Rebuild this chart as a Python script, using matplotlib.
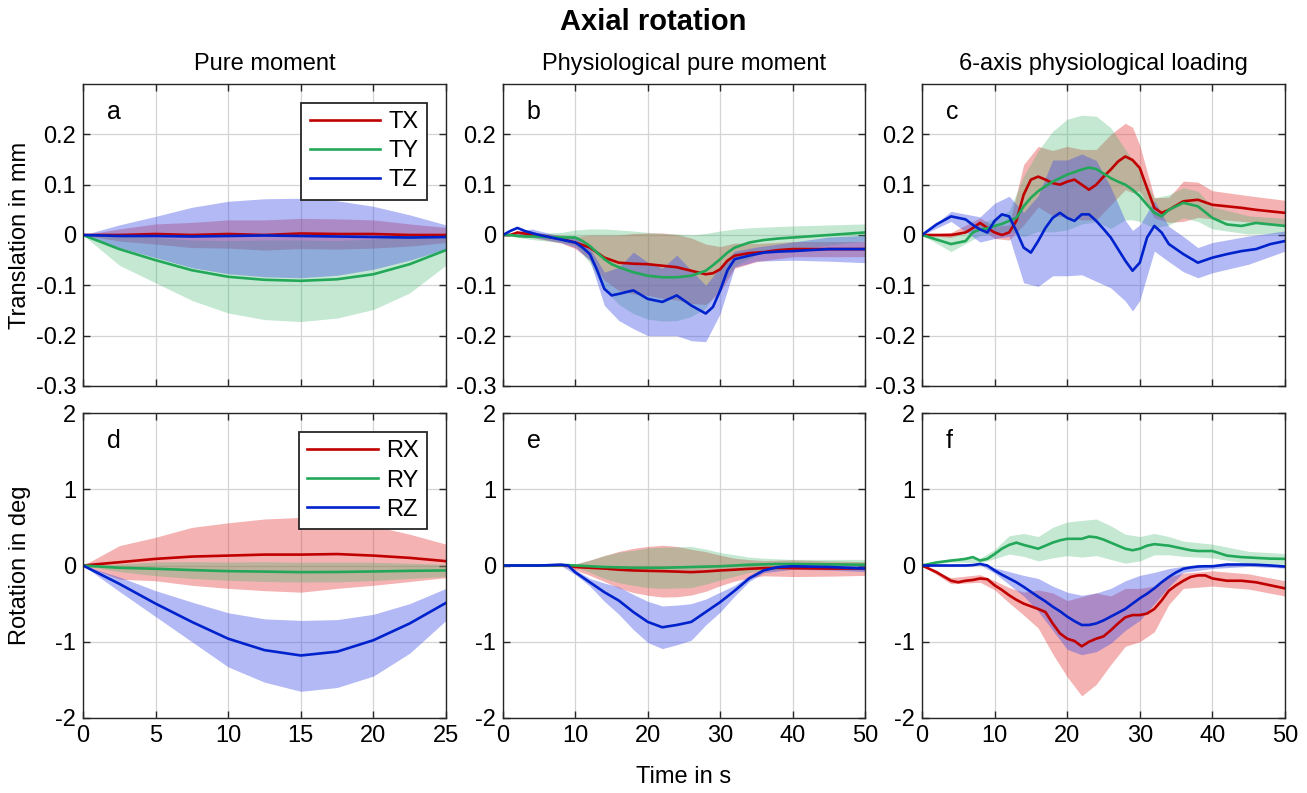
import numpy as np
import matplotlib
matplotlib.use("Agg")
import matplotlib.pyplot as plt

plt.rcParams['font.family'] = ['Liberation Sans', 'DejaVu Sans']
plt.rcParams['axes.unicode_minus'] = False

# ---------------- data ----------------
labels_T = ['TX', 'TY', 'TZ']
labels_R = ['RX', 'RY', 'RZ']

# panel a : pure moment, translation
a_t = [0, 2.5, 5, 7.5, 10, 12.5, 15, 17.5, 20, 22.5, 25]
a_tx = [0, 0, 0.002, 0, 0.002, 0, 0.003, 0.002, 0.002, 0, 0]
a_ty = [0, -0.028, -0.05, -0.07, -0.083, -0.089, -0.091, -0.088, -0.078, -0.058, -0.03]
a_tz = [0, -0.002, -0.002, -0.003, -0.002, -0.001, -0.002, -0.003, -0.004, -0.005, -0.004]
a_tx_hi = [0, 0.012, 0.022, 0.025, 0.03, 0.03, 0.033, 0.032, 0.03, 0.022, 0.015]
a_tx_lo = [0, -0.012, -0.018, -0.025, -0.026, -0.03, -0.027, -0.028, -0.026, -0.022, -0.015]
a_ty_hi = [0, 0.004, -0.005, -0.01, -0.011, -0.01, -0.01, -0.011, -0.008, -0.001, 0]
a_ty_lo = [0, -0.06, -0.095, -0.13, -0.155, -0.168, -0.172, -0.165, -0.148, -0.115, -0.06]
a_tz_hi = [0, 0.02, 0.037, 0.055, 0.067, 0.072, 0.073, 0.068, 0.057, 0.04, 0.02]
a_tz_lo = [0, -0.025, -0.045, -0.065, -0.077, -0.083, -0.085, -0.08, -0.068, -0.05, -0.028]

# panel b : physiological pure moment, translation
b_t = [0, 1, 2, 3, 4, 5, 6, 8, 10, 11, 12, 13, 14, 15, 16, 18, 20, 22, 24, 26,
       28, 29, 30, 31, 32, 34, 36, 38, 40, 45, 50]
b_tx = [0, 0, 0.005, 0.003, 0, 0, -0.003, -0.008, -0.015, -0.02, -0.025, -0.035, -0.045,
        -0.05, -0.055, -0.057, -0.058, -0.061, -0.064, -0.071, -0.078, -0.076, -0.068,
        -0.051, -0.041, -0.036, -0.034, -0.03, -0.028, -0.028, -0.028]
b_ty = [0, 0, -0.002, -0.003, -0.003, -0.003, -0.004, -0.005, -0.005, -0.012, -0.022,
        -0.035, -0.048, -0.058, -0.064, -0.074, -0.081, -0.084, -0.084, -0.081, -0.071,
        -0.06, -0.048, -0.035, -0.025, -0.015, -0.01, -0.007, -0.005, 0, 0.005]
b_tz = [0, 0.008, 0.014, 0.008, 0.004, 0, -0.003, -0.009, -0.015, -0.025, -0.038, -0.07,
        -0.107, -0.12, -0.117, -0.11, -0.127, -0.133, -0.12, -0.14, -0.156, -0.143, -0.11,
        -0.07, -0.048, -0.041, -0.035, -0.033, -0.032, -0.028, -0.028]
b_tb = [0, 4, 8, 10, 12, 14, 16, 18, 20, 22, 24, 26, 28, 30, 32, 35, 40, 45, 50]
b_tx_hi = [0, 0.005, 0, -0.003, 0, 0, 0, 0.003, 0.004, 0.004, 0.001, -0.006, -0.018,
           -0.023, -0.016, -0.017, -0.013, -0.013, -0.013]
b_tx_lo = [0, -0.005, -0.016, -0.027, -0.05, -0.09, -0.11, -0.117, -0.12, -0.126, -0.129,
           -0.136, -0.138, -0.113, -0.066, -0.053, -0.043, -0.043, -0.043]
b_ty_hi = [0, 0.003, 0.005, 0.01, 0.012, 0.012, 0.01, 0.008, 0.005, 0.003, 0.002, 0.0,
           0.003, 0.008, 0.012, 0.015, 0.018, 0.02, 0.022]
b_ty_lo = [0, -0.009, -0.015, -0.02, -0.056, -0.108, -0.138, -0.156, -0.167, -0.171, -0.17,
           -0.162, -0.145, -0.104, -0.062, -0.039, -0.028, -0.02, -0.012]
b_tz_hi = [0, 0.012, -0.003, -0.005, -0.026, -0.074, -0.064, -0.034, -0.054, -0.066, -0.04,
           -0.07, -0.1, -0.064, -0.032, -0.024, -0.014, -0.004, -0.001]
b_tz_lo = [0, -0.004, -0.015, -0.025, -0.05, -0.14, -0.17, -0.186, -0.2, -0.2, -0.2,
           -0.21, -0.212, -0.156, -0.064, -0.052, -0.05, -0.052, -0.055]

# panel c : 6-axis physiological loading, translation
c_t = [0, 2, 4, 6, 7, 8, 9, 10, 11, 12, 13, 14, 15, 16, 17, 18, 19, 20, 21, 22, 23, 24,
       25, 26, 27, 28, 29, 30, 31, 32, 33, 34, 36, 38, 40, 42, 44, 46, 48, 50]
c_tx = [0, 0, 0, 0.005, 0.014, 0.024, 0.014, 0.005, 0, 0.005, 0.028, 0.08, 0.11, 0.116,
        0.11, 0.103, 0.1, 0.106, 0.11, 0.1, 0.09, 0.1, 0.116, 0.13, 0.146, 0.156, 0.149,
        0.133, 0.093, 0.054, 0.044, 0.05, 0.067, 0.07, 0.06, 0.057, 0.054, 0.05, 0.047, 0.044]
c_ty = [0, -0.009, -0.018, -0.012, 0.005, 0.011, 0.013, 0.018, 0.022, 0.028, 0.034, 0.057,
        0.074, 0.087, 0.097, 0.106, 0.113, 0.12, 0.125, 0.13, 0.134, 0.131, 0.122, 0.113,
        0.106, 0.1, 0.09, 0.077, 0.06, 0.044, 0.037, 0.05, 0.064, 0.057, 0.034, 0.021,
        0.018, 0.024, 0.021, 0.018]
c_tz = [0, 0.021, 0.037, 0.031, 0.02, 0.011, 0.005, 0.028, 0.041, 0.037, 0.008, -0.025,
        -0.035, -0.012, 0.014, 0.034, 0.044, 0.034, 0.028, 0.041, 0.041, 0.028, 0.012,
        -0.005, -0.028, -0.051, -0.071, -0.055, -0.005, 0.018, 0.005, -0.018, -0.038,
        -0.055, -0.045, -0.038, -0.032, -0.028, -0.018, -0.012]
c_tb = [0, 4, 8, 10, 12, 14, 16, 18, 20, 22, 24, 26, 28, 29, 30, 32, 34, 36, 38, 40, 45, 50]
c_tx_hi = [0, 0.005, 0.034, 0.017, 0.02, 0.14, 0.176, 0.168, 0.176, 0.17, 0.17, 0.2, 0.222,
           0.214, 0.178, 0.074, 0.075, 0.107, 0.105, 0.088, 0.078, 0.069]
c_tx_lo = [0, -0.005, 0.014, -0.007, -0.01, 0.02, 0.056, 0.038, 0.036, 0.03, 0.03, 0.06,
           0.09, 0.084, 0.088, 0.034, 0.025, 0.027, 0.035, 0.032, 0.026, 0.019]
c_ty_hi = [0, -0.003, 0.023, 0.033, 0.048, 0.117, 0.167, 0.206, 0.23, 0.238, 0.236, 0.213,
           0.17, 0.15, 0.127, 0.074, 0.08, 0.094, 0.087, 0.056, 0.038, 0.033]
c_ty_lo = [0, -0.033, -0.001, 0.003, 0.008, -0.003, 0.007, 0.006, 0.01, 0.022, 0.026, 0.013,
           0.03, 0.03, 0.027, 0.014, 0.02, 0.034, 0.027, 0.012, 0.002, 0.003]
c_tz_hi = [0, 0.047, 0.036, 0.063, 0.077, 0.045, 0.078, 0.149, 0.149, 0.161, 0.148, 0.095,
           0.029, 0.009, 0.02, 0.068, 0.017, -0.003, -0.025, -0.015, -0.002, 0.008]
c_tz_lo = [0, 0.027, -0.014, -0.007, -0.003, -0.095, -0.102, -0.081, -0.081, -0.079, -0.092,
           -0.105, -0.131, -0.151, -0.13, -0.032, -0.053, -0.073, -0.085, -0.075, -0.058, -0.032]

# panel d : pure moment, rotation
d_t = [0, 2.5, 5, 7.5, 10, 12.5, 15, 17.5, 20, 22.5, 25]
d_rx = [0, 0.043, 0.087, 0.117, 0.13, 0.143, 0.143, 0.15, 0.13, 0.1, 0.057]
d_ry = [0, -0.03, -0.043, -0.06, -0.074, -0.08, -0.087, -0.085, -0.078, -0.07, -0.065]
d_rz = [0, -0.24, -0.5, -0.74, -0.96, -1.11, -1.18, -1.13, -0.98, -0.76, -0.49]
d_rx_hi = [0, 0.26, 0.37, 0.5, 0.56, 0.61, 0.63, 0.59, 0.52, 0.41, 0.28]
d_rx_lo = [0, -0.18, -0.2, -0.26, -0.3, -0.33, -0.35, -0.3, -0.26, -0.21, -0.16]
d_ry_hi = [0, 0.02, 0.047, 0.05, 0.046, 0.05, 0.043, 0.045, 0.042, 0.03, 0.015]
d_ry_lo = [0, -0.08, -0.133, -0.17, -0.194, -0.21, -0.217, -0.215, -0.198, -0.17, -0.145]
d_rz_hi = [0, -0.15, -0.33, -0.48, -0.62, -0.7, -0.72, -0.71, -0.64, -0.5, -0.3]
d_rz_lo = [0, -0.34, -0.67, -1.0, -1.33, -1.53, -1.65, -1.6, -1.45, -1.15, -0.72]

# panel e : physiological pure moment, rotation
e_t = [0, 5, 8, 9, 10, 12, 14, 16, 18, 20, 22, 24, 26, 28, 30, 32, 34, 36, 38, 40, 45, 50]
e_rx = [0, 0, 0.005, 0.0, -0.02, -0.03, -0.04, -0.055, -0.065, -0.07, -0.074, -0.08, -0.087,
        -0.078, -0.065, -0.055, -0.043, -0.035, -0.03, -0.035, -0.04, -0.04]
e_ry = [0, 0, 0.005, 0.005, 0, -0.01, -0.02, -0.025, -0.03, -0.03, -0.03, -0.025, -0.02,
        -0.015, -0.01, 0, 0.01, 0.015, 0.02, 0.02, 0.015, 0.01]
e_rz = [0, 0, 0.01, 0, -0.09, -0.22, -0.35, -0.46, -0.61, -0.74, -0.81, -0.78, -0.74, -0.61,
        -0.48, -0.33, -0.17, -0.065, -0.02, -0.01, -0.02, -0.04]
e_tb = [0, 8, 10, 12, 14, 16, 18, 20, 22, 24, 26, 28, 30, 32, 34, 36, 40, 45, 50]
e_rx_hi = [0, 0.015, 0.02, 0.07, 0.13, 0.185, 0.225, 0.25, 0.266, 0.25, 0.213, 0.182, 0.135,
           0.095, 0.077, 0.065, 0.075, 0.06, 0.05]
e_rx_lo = [0, -0.005, -0.06, -0.13, -0.21, -0.295, -0.355, -0.39, -0.414, -0.41, -0.387,
           -0.338, -0.265, -0.205, -0.163, -0.135, -0.145, -0.14, -0.13]
e_ry_hi = [0, 0.015, 0.02, 0.07, 0.13, 0.175, 0.2, 0.23, 0.24, 0.245, 0.25, 0.215, 0.17,
           0.14, 0.11, 0.095, 0.08, 0.08, 0.08]
e_ry_lo = [0, -0.005, -0.02, -0.09, -0.17, -0.225, -0.26, -0.29, -0.3, -0.295, -0.29,
           -0.245, -0.19, -0.14, -0.09, -0.065, -0.04, -0.05, -0.06]
e_rz_hi = [0, 0.02, -0.06, -0.17, -0.23, -0.28, -0.38, -0.47, -0.53, -0.52, -0.5, -0.44,
           -0.35, -0.26, -0.13, -0.035, 0.03, 0.02, 0.0]
e_rz_lo = [0, 0.0, -0.12, -0.27, -0.47, -0.64, -0.84, -1.01, -1.09, -1.04, -0.98, -0.78,
           -0.61, -0.4, -0.21, -0.095, -0.05, -0.06, -0.08]

# panel f : 6-axis physiological loading, rotation
f_t = [0, 2, 4, 5, 6, 7, 8, 9, 10, 11, 12, 13, 14, 16, 17, 18, 19, 20, 21, 22, 23, 24, 25,
       26, 27, 28, 29, 30, 31, 32, 33, 34, 35, 36, 37, 38, 39, 40, 42, 44, 46, 48, 50]
f_rx = [0, -0.087, -0.2, -0.22, -0.2, -0.19, -0.17, -0.18, -0.26, -0.32, -0.39, -0.45, -0.5,
        -0.57, -0.61, -0.76, -0.89, -0.96, -0.99, -1.06, -1.0, -0.96, -0.93, -0.85, -0.76,
        -0.68, -0.65, -0.65, -0.63, -0.57, -0.46, -0.33, -0.26, -0.2, -0.15, -0.13, -0.13,
        -0.17, -0.2, -0.2, -0.22, -0.26, -0.3]
f_ry = [0, 0.04, 0.065, 0.075, 0.087, 0.11, 0.065, 0.087, 0.15, 0.22, 0.27, 0.3, 0.27, 0.22,
        0.26, 0.3, 0.33, 0.35, 0.35, 0.35, 0.38, 0.37, 0.34, 0.3, 0.26, 0.22, 0.2, 0.22,
        0.26, 0.28, 0.27, 0.26, 0.24, 0.22, 0.2, 0.19, 0.19, 0.19, 0.13, 0.11, 0.1, 0.09, 0.087]
f_rz = [0, 0, 0, 0, 0, 0.005, 0.02, 0, -0.065, -0.12, -0.17, -0.22, -0.28, -0.41, -0.47,
        -0.54, -0.6, -0.67, -0.73, -0.78, -0.78, -0.76, -0.72, -0.67, -0.62, -0.57, -0.5,
        -0.43, -0.37, -0.3, -0.22, -0.15, -0.09, -0.043, -0.025, -0.013, -0.01, -0.01,
        0.013, 0.013, 0.01, 0.0, -0.013]
f_tb = [0, 4, 8, 10, 12, 14, 16, 18, 20, 22, 24, 26, 28, 30, 32, 34, 36, 40, 45, 50]
f_rx_hi = [0, -0.16, -0.12, -0.2, -0.29, -0.35, -0.32, -0.36, -0.46, -0.41, -0.36, -0.4,
           -0.3, -0.3, -0.27, -0.15, -0.1, -0.07, -0.11, -0.2]
f_rx_lo = [0, -0.24, -0.22, -0.32, -0.49, -0.65, -0.82, -1.16, -1.46, -1.71, -1.56, -1.3,
           -1.06, -1.0, -0.87, -0.51, -0.3, -0.27, -0.31, -0.4]
f_ry_hi = [0, 0.085, 0.095, 0.21, 0.39, 0.42, 0.38, 0.5, 0.57, 0.59, 0.61, 0.52, 0.41, 0.38,
           0.42, 0.38, 0.32, 0.28, 0.185, 0.157]
f_ry_lo = [0, 0.045, 0.035, 0.09, 0.15, 0.12, 0.06, 0.1, 0.13, 0.11, 0.13, 0.08, 0.03, 0.06,
           0.14, 0.14, 0.12, 0.1, 0.025, 0.017]
f_rz_hi = [0, 0.01, 0.03, -0.03, -0.08, -0.13, -0.17, -0.27, -0.35, -0.39, -0.36, -0.3,
           -0.2, -0.13, -0.09, -0.04, -0.01, 0.01, 0.03, 0.01]
f_rz_lo = [0, -0.01, 0.01, -0.1, -0.25, -0.4, -0.6, -0.85, -1.1, -1.17, -1.13, -1.02,
           -0.85, -0.72, -0.5, -0.28, -0.09, -0.04, -0.01, -0.035]

col_titles = ['Pure moment', 'Physiological pure moment', '6-axis physiological loading']
panel_letters = ['a', 'b', 'c', 'd', 'e', 'f']

line_colors = ['#C00000', '#22A858', '#0022CC']
fill_colors = ['#E64040', '#3CB46A', '#4050E6']
fill_alpha = [0.4, 0.3, 0.4]

# ---------------- figure ----------------
fig = plt.figure(figsize=(13.07, 7.93), dpi=100)

lefts = [83, 503, 922]
widths = [363, 362, 363]
tops = [84, 413]
heights = [302, 305]
W, H = 1307, 793

axes = []
for r in range(2):
    for c in range(3):
        ax = fig.add_axes([lefts[c] / W, 1 - (tops[r] + heights[r]) / H,
                           widths[c] / W, heights[r] / H])
        axes.append(ax)

panels = [
    (a_t, [a_tx, a_ty, a_tz], a_t, [(a_tx_lo, a_tx_hi), (a_ty_lo, a_ty_hi), (a_tz_lo, a_tz_hi)]),
    (b_t, [b_tx, b_ty, b_tz], b_tb, [(b_tx_lo, b_tx_hi), (b_ty_lo, b_ty_hi), (b_tz_lo, b_tz_hi)]),
    (c_t, [c_tx, c_ty, c_tz], c_tb, [(c_tx_lo, c_tx_hi), (c_ty_lo, c_ty_hi), (c_tz_lo, c_tz_hi)]),
    (d_t, [d_rx, d_ry, d_rz], d_t, [(d_rx_lo, d_rx_hi), (d_ry_lo, d_ry_hi), (d_rz_lo, d_rz_hi)]),
    (e_t, [e_rx, e_ry, e_rz], e_tb, [(e_rx_lo, e_rx_hi), (e_ry_lo, e_ry_hi), (e_rz_lo, e_rz_hi)]),
    (f_t, [f_rx, f_ry, f_rz], f_tb, [(f_rx_lo, f_rx_hi), (f_ry_lo, f_ry_hi), (f_rz_lo, f_rz_hi)]),
]

fs = 17
for i, ax in enumerate(axes):
    t_line, lines, t_band, bands = panels[i]
    for k in range(3):
        ax.fill_between(t_band, bands[k][0], bands[k][1], color=fill_colors[k],
                        alpha=fill_alpha[k], linewidth=0)
    labs = labels_T if i < 3 else labels_R
    for k in range(3):
        ax.plot(t_line, lines[k], color=line_colors[k], lw=1.9, label=labs[k])

    xmax = 25 if i % 3 == 0 else 50
    ax.set_xlim(0, xmax)
    ax.set_xticks(np.arange(0, xmax + 1, 5 if xmax == 25 else 10))
    if i < 3:
        ax.set_ylim(-0.3, 0.3)
        ax.set_yticks([-0.3, -0.2, -0.1, 0, 0.1, 0.2])
        ax.set_yticklabels(['-0.3', '-0.2', '-0.1', '0', '0.1', '0.2'])
        ax.set_xticklabels([])
        ax.set_title(col_titles[i], fontsize=fs, pad=10)
    else:
        ax.set_ylim(-2, 2)
        ax.set_yticks([-2, -1, 0, 1, 2])
        ax.set_yticklabels(['-2', '-1', '0', '1', '2'])
    ax.grid(True, color='#d4d4d4', lw=0.9)
    ax.set_axisbelow(True)
    ax.tick_params(direction='in', top=True, right=True, length=5, width=1,
                   labelsize=fs, color='#262626', pad=5)
    for s in ax.spines.values():
        s.set_color('#262626')
        s.set_linewidth(1.0)
    ax.text(0.065, 0.885, panel_letters[i], transform=ax.transAxes,
            fontsize=18, ha='left', va='baseline')
    if i in (0, 3):
        leg = ax.legend(loc='upper right', bbox_to_anchor=(0.948, 0.937), borderaxespad=0,
                        fontsize=fs, handlelength=3.0, labelspacing=0.3, fancybox=False,
                        framealpha=1, edgecolor='#262626', borderpad=0.35, handletextpad=0.35)
        leg.get_frame().set_linewidth(1.3)

axes[4].set_xlabel('Time in s', fontsize=fs, labelpad=14)
fig.text(20 / W, 1 - 235 / H, 'Translation in mm', rotation=90, fontsize=fs,
         ha='center', va='center')
fig.text(20 / W, 1 - 565 / H, 'Rotation in deg', rotation=90, fontsize=fs,
         ha='center', va='center')
fig.text(0.5, 1 - 22 / H, 'Axial rotation', fontsize=21, fontweight='bold',
         ha='center', va='center')

fig.savefig('out.png', dpi=100)
